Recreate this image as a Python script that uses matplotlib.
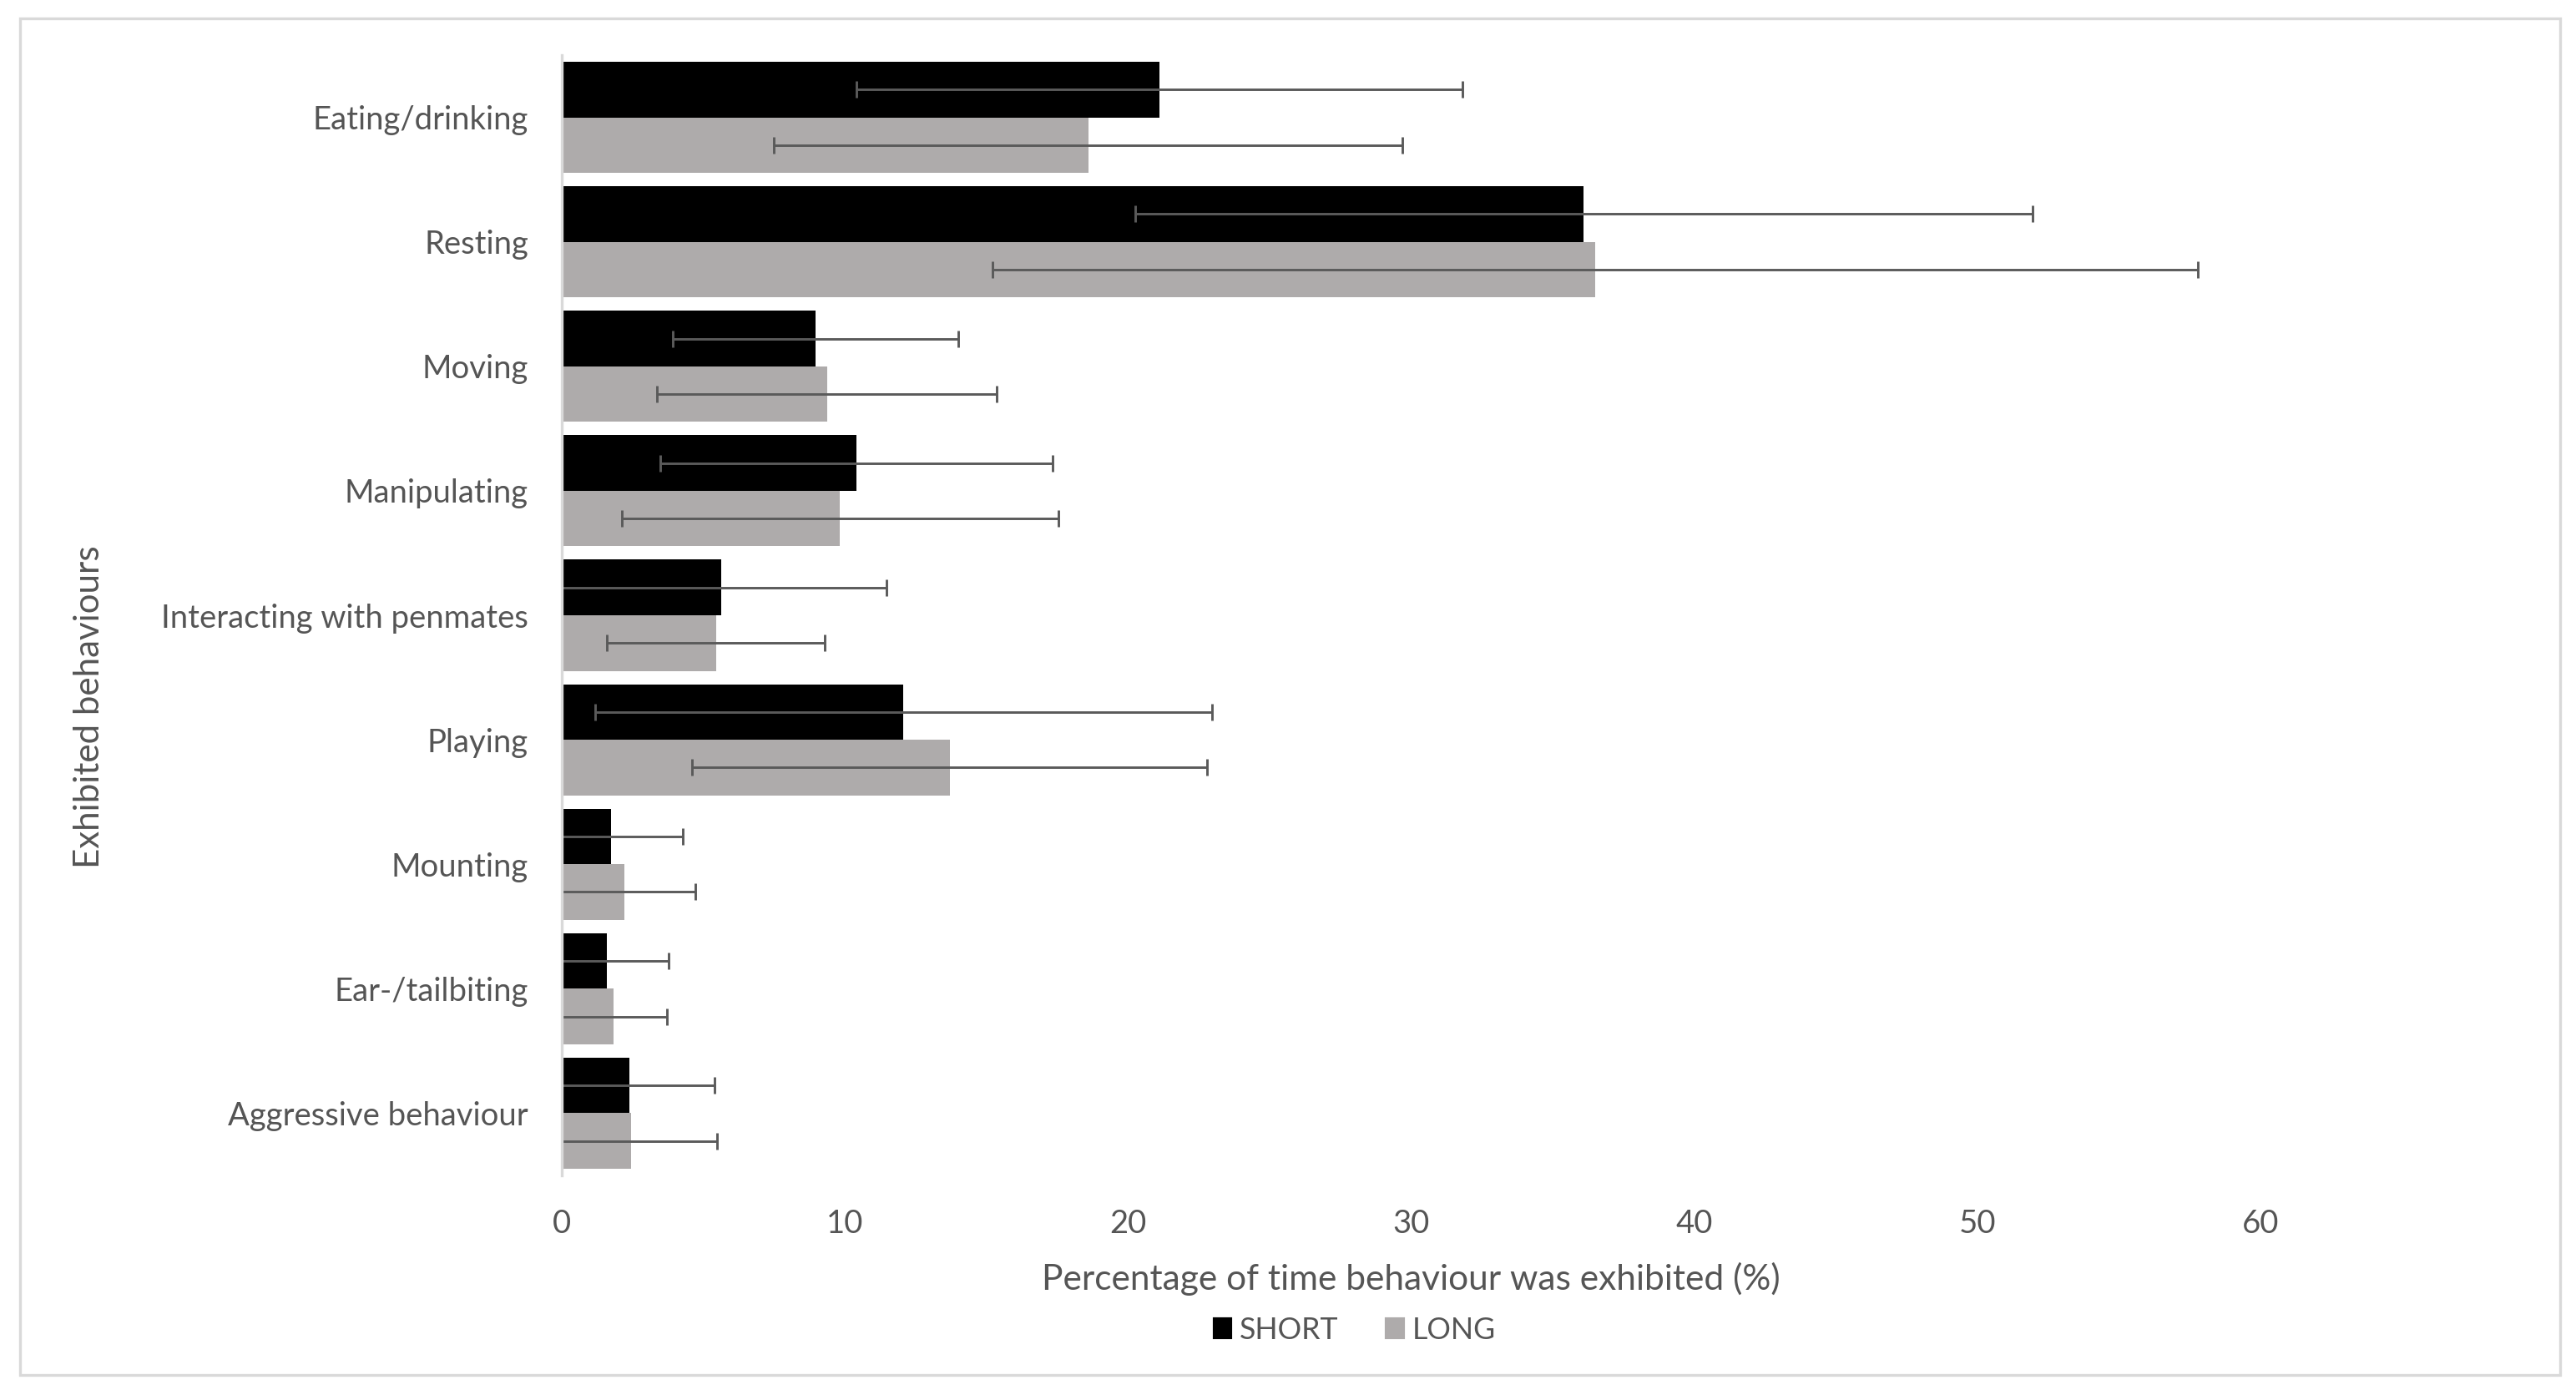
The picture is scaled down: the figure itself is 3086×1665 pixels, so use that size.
import numpy as np
import matplotlib
matplotlib.use("Agg")
from matplotlib import pyplot as plt
from matplotlib.patches import Rectangle, Patch

plt.rcParams['font.family'] = ['Lato', 'DejaVu Sans']

#############################################################
# Data
#############################################################
behaviours = ["Eating/drinking", "Resting", "Moving", "Manipulating",
              "Interacting with penmates", "Playing", "Mounting",
              "Ear-/tailbiting", "Aggressive behaviour"]
short_mean = [21.1, 36.1, 8.96, 10.42, 5.63, 12.07, 1.75, 1.58, 2.38]
short_err = [10.7, 15.85, 5.05, 6.93, 5.83, 10.9, 2.53, 2.19, 3.02]
long_mean = [18.6, 36.5, 9.37, 9.83, 5.44, 13.7, 2.2, 1.82, 2.45]
long_err = [11.1, 21.3, 6.0, 7.7, 3.85, 9.1, 2.53, 1.89, 3.04]
x_ticks = [0, 10, 20, 30, 40, 50, 60]

SHORT_COL = "#000000"
LONG_COL = "#aeabab"
TXT_COL = "#555555"
ERR_COL = "#5a5a5a"

#############################################################
# Plot
#############################################################
W, H, DPI = 3087, 1665, 300
fig = plt.figure(figsize=(W / DPI, H / DPI), dpi=DPI)

# outer chart border
fig.patches.append(Rectangle((24 / W, 1 - 1647 / H), (3067 - 24) / W, (1647 - 22) / H,
                             transform=fig.transFigure, fill=False,
                             edgecolor="#d9d9d9", linewidth=0.8))

ax = fig.add_axes([673 / W, 1 - 1408 / H, (2708 - 673) / W, (1408 - 66) / H])

y = np.arange(len(behaviours))
h = 0.446
ekw = dict(ecolor=ERR_COL, elinewidth=0.7, capsize=2.5, capthick=0.7)
ax.barh(y - h / 2, short_mean, height=h, color=SHORT_COL, xerr=short_err,
        error_kw=ekw, label="SHORT")
ax.barh(y + h / 2, long_mean, height=h, color=LONG_COL, xerr=long_err,
        error_kw=ekw, label="LONG")

ax.set_xlim(0, 60)
ax.set_ylim(len(behaviours) - 0.5, -0.5)
ax.set_xticks(x_ticks)
ax.set_yticks(y)
ax.set_yticklabels(behaviours)
ax.tick_params(axis="both", length=0, labelsize=9.2, labelcolor=TXT_COL)
ax.tick_params(axis="x", pad=9.5)
ax.tick_params(axis="y", pad=9.6)

for s in ["top", "right", "bottom"]:
    ax.spines[s].set_visible(False)
ax.spines["left"].set_color("#d9d9d9")
ax.spines["left"].set_linewidth(0.8)

ax.set_xlabel("Percentage of time behaviour was exhibited (%)", fontsize=10.2, color=TXT_COL)
ax.xaxis.label.set_va("center")
ax.xaxis.set_label_coords(0.5, (1408 - 1532) / 1342)
ax.set_ylabel("Exhibited behaviours", fontsize=10.1, color=TXT_COL)
ax.yaxis.label.set_va("center")
ax.yaxis.set_label_coords((107 - 673) / 2035, (1408 - 847) / 1342)

handles = [Patch(color=SHORT_COL, label="SHORT"), Patch(color=LONG_COL, label="LONG")]
fig.legend(handles=handles, loc="center", bbox_to_anchor=(1623 / W, 1 - 1593 / H),
           ncol=2, frameon=False, fontsize=8.6, labelcolor=TXT_COL,
           handlelength=0.55, handleheight=0.55, handletextpad=0.3, columnspacing=1.6)

fig.savefig("out.png", dpi=DPI)
